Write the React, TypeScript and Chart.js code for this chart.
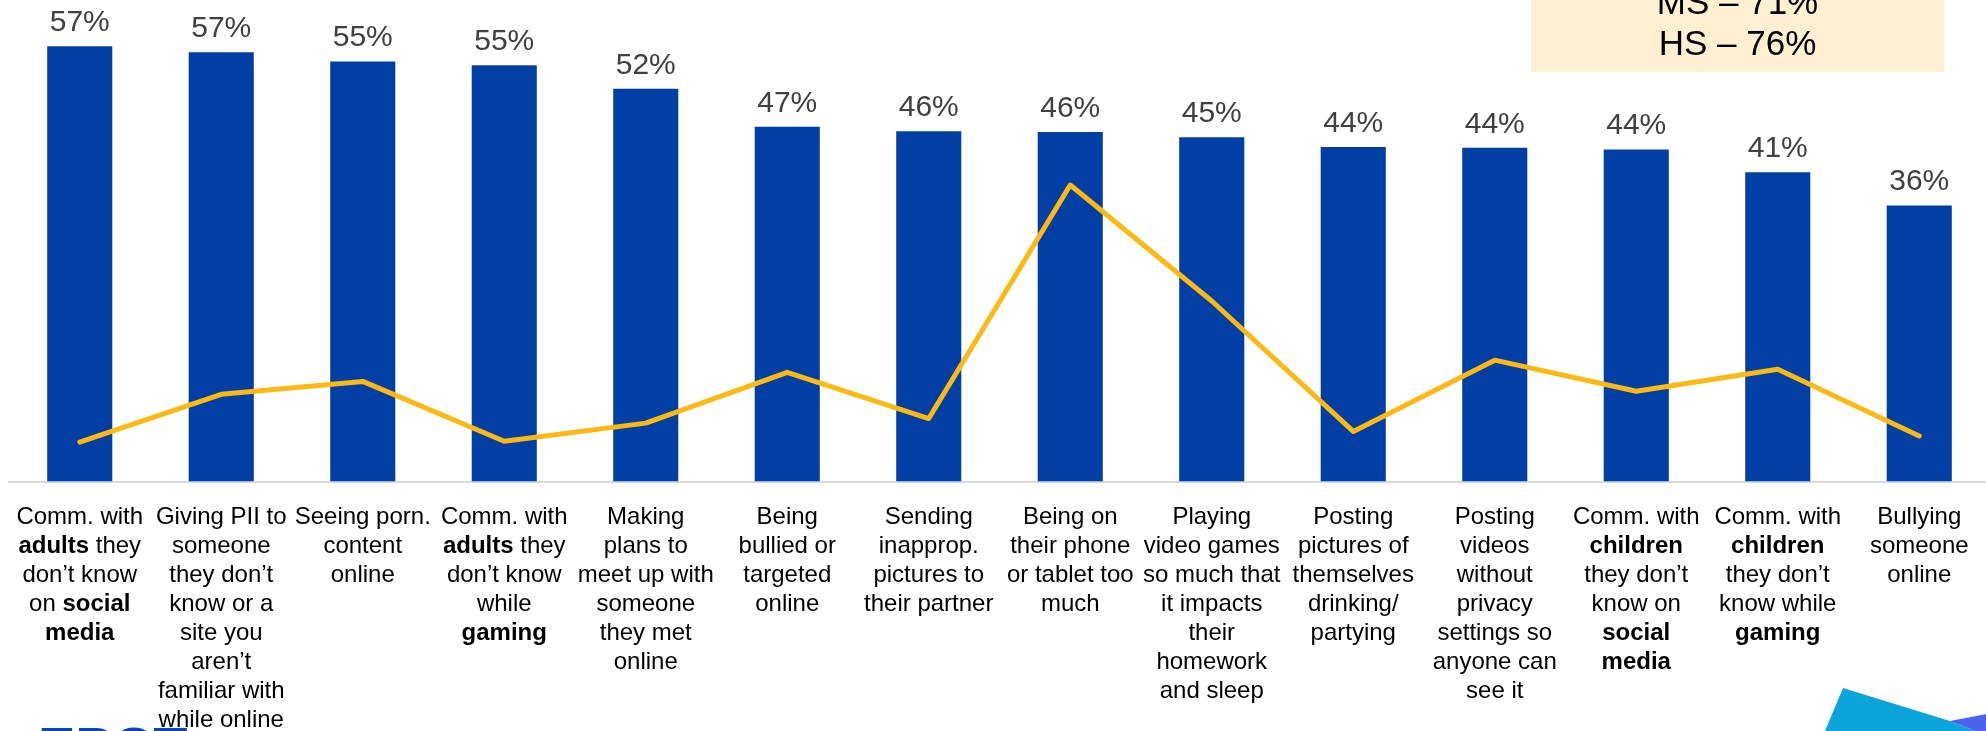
import React, { useEffect, useRef } from "react";
import { Chart, registerables } from "chart.js";

Chart.register(...registerables);

// Category labels (** marks bold segments, \n separates lines)
const categories: string[] = [
  "Comm. with\n**adults** they\ndon’t know\non **social**\n**media**",
  "Giving PII to\nsomeone\nthey don’t\nknow or a\nsite you\naren’t\nfamiliar with\nwhile online",
  "Seeing porn.\ncontent\nonline",
  "Comm. with\n**adults** they\ndon’t know\nwhile\n**gaming**",
  "Making\nplans to\nmeet up with\nsomeone\nthey met\nonline",
  "Being\nbullied or\ntargeted\nonline",
  "Sending\ninapprop.\npictures to\ntheir partner",
  "Being on\ntheir phone\nor tablet too\nmuch",
  "Playing\nvideo games\nso much that\nit impacts\ntheir\nhomework\nand sleep",
  "Posting\npictures of\nthemselves\ndrinking/\npartying",
  "Posting\nvideos\nwithout\nprivacy\nsettings so\nanyone can\nsee it",
  "Comm. with\n**children**\nthey don’t\nknow on\n**social**\n**media**",
  "Comm. with\n**children**\nthey don’t\nknow while\n**gaming**",
  "Bullying\nsomeone\nonline",
];

// Bar series (percent)
const barValues: number[] = [57.4, 56.6, 55.4, 54.9, 51.8, 46.8, 46.2, 46.1, 45.4, 44.1, 44.0, 43.8, 40.8, 36.4];

// Line series (same percent axis)
const lineValues: number[] = [5.2, 11.5, 13.2, 5.3, 7.7, 14.4, 8.3, 39.1, 23.8, 6.6, 16.0, 11.9, 14.8, 6.0];

// Callout box lines
const calloutLines: string[] = ["MS – 71%", "HS – 76%"];

const logoText = "EPCT";

const FONT = "'Liberation Sans', Arial, sans-serif";

function parseLine(line: string) {
  return line
    .split("**")
    .map((t, i) => ({ text: t, bold: i % 2 === 1 }))
    .filter((p) => p.text.length > 0);
}

const decorPlugin = {
  id: "decor",
  beforeDraw(chart: any) {
    const ctx = chart.ctx as CanvasRenderingContext2D;
    ctx.save();
    // callout box
    ctx.fillStyle = "#FFF0D2";
    ctx.fillRect(1531, 0, 413, 72);
    ctx.fillStyle = "#000000";
    ctx.font = `35px ${FONT}`;
    ctx.textAlign = "center";
    ctx.textBaseline = "alphabetic";
    ctx.fillText(calloutLines[0], 1737.5, 14);
    ctx.fillText(calloutLines[1], 1737.5, 55);
    // bottom right shapes
    ctx.fillStyle = "#0BA5DA";
    ctx.beginPath();
    ctx.moveTo(1843, 688);
    ctx.lineTo(1950, 721);
    ctx.lineTo(1975, 731);
    ctx.lineTo(1825, 731);
    ctx.closePath();
    ctx.fill();
    ctx.fillStyle = "#4C62EE";
    ctx.beginPath();
    ctx.moveTo(1950, 721);
    ctx.lineTo(1992, 713);
    ctx.lineTo(1992, 731);
    ctx.lineTo(1975, 731);
    ctx.closePath();
    ctx.fill();
    // logo (mostly cut off)
    ctx.fillStyle = "#0A45B0";
    ctx.font = `bold 56px ${FONT}`;
    ctx.textAlign = "left";
    ctx.fillText(logoText, 38, 766);
    ctx.restore();
  },
  afterDraw(chart: any) {
    const ctx = chart.ctx as CanvasRenderingContext2D;
    const xScale = chart.scales.x;
    ctx.save();
    ctx.textBaseline = "alphabetic";
    ctx.textAlign = "left";
    ctx.fillStyle = "#000000";
    categories.forEach((label, i) => {
      const cx = xScale.getPixelForValue(i);
      label.split("\n").forEach((line, k) => {
        const segs = parseLine(line);
        let total = 0;
        const widths = segs.map((s) => {
          ctx.font = `${s.bold ? "bold " : ""}24px ${FONT}`;
          const w = ctx.measureText(s.text).width;
          total += w;
          return w;
        });
        let x = cx - total / 2;
        const y = 524 + k * 29;
        segs.forEach((s, j) => {
          ctx.font = `${s.bold ? "bold " : ""}24px ${FONT}`;
          ctx.fillText(s.text, x, y);
          x += widths[j];
        });
      });
    });
    ctx.restore();
  },
  afterDatasetsDraw(chart: any) {
    const ctx = chart.ctx as CanvasRenderingContext2D;
    const meta = chart.getDatasetMeta(1);
    ctx.save();
    ctx.font = `30px ${FONT}`;
    ctx.fillStyle = "#404040";
    ctx.textAlign = "center";
    ctx.textBaseline = "alphabetic";
    meta.data.forEach((el: any, i: number) => {
      ctx.fillText(`${Math.round(barValues[i])}%`, el.x, el.y - 15);
    });
    ctx.restore();
  },
};

export default function App() {
  const ref = useRef<HTMLCanvasElement | null>(null);
  useEffect(() => {
    if (!ref.current) return;
    const chart = new Chart(ref.current, {
      type: "bar",
      data: {
        labels: categories.map((c) => c.replace(/\*\*/g, "").split("\n").join(" ")),
        datasets: [
          {
            type: "line",
            data: lineValues,
            borderColor: "#FDB913",
            borderWidth: 5,
            pointRadius: 0,
            tension: 0,
            borderJoinStyle: "round",
            borderCapStyle: "round",
            order: 0,
          } as any,
          {
            type: "bar",
            data: barValues,
            backgroundColor: "#023FA5",
            categoryPercentage: 1,
            barPercentage: 0.46,
            order: 1,
          },
        ],
      },
      options: {
        animation: false,
        responsive: false,
        maintainAspectRatio: false,
        layout: { padding: { top: 0, bottom: 241.5, left: 9, right: 2 } },
        plugins: { legend: { display: false }, tooltip: { enabled: false } },
        scales: {
          x: {
            grid: { display: false },
            ticks: { display: false },
            border: { display: true, color: "#D9D9D9", width: 2 },
          },
          y: {
            display: false,
            min: 0,
            max: 63.5,
          },
        },
      },
      plugins: [decorPlugin],
    });
    return () => chart.destroy();
  }, []);
  return (
    <div
      style={{
        position: "fixed",
        left: 0,
        top: 0,
        width: 1986,
        height: 731,
        overflow: "hidden",
        background: "#ffffff",
      }}
    >
      <canvas ref={ref} width={1992} height={731} style={{ width: 1992, height: 731, display: "block" }} />
    </div>
  );
}
